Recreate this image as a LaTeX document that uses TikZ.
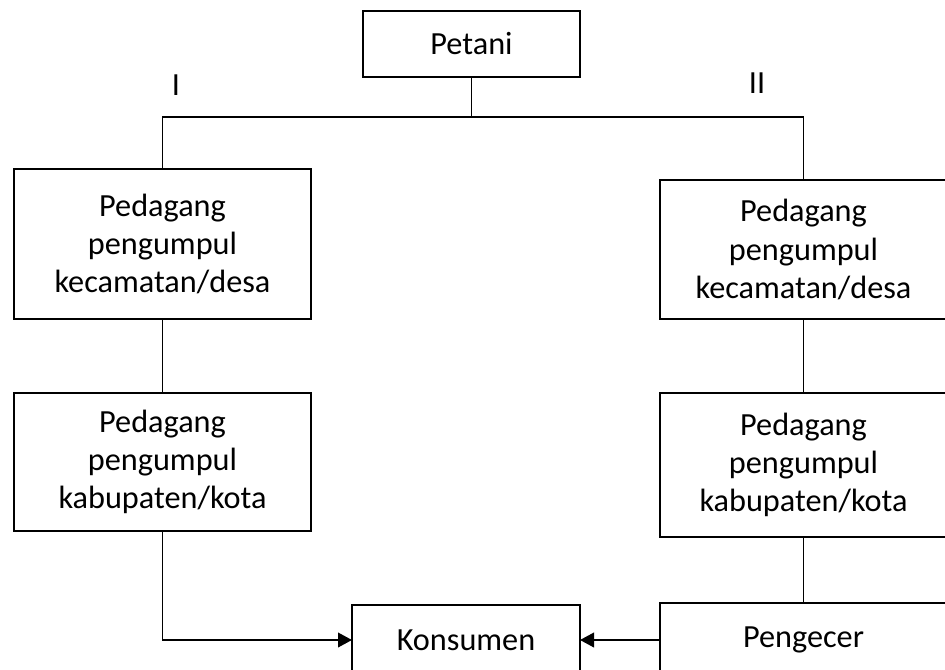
\documentclass[tikz,border=0pt]{standalone}
\usepackage{fontspec}
\setmainfont{Carlito}
\usetikzlibrary{arrows.meta}
\begin{document}
\begin{tikzpicture}[x=0.75pt,y=-0.75pt,
  box/.style={draw,line width=1.3pt,inner sep=0pt,outer sep=0pt,align=center,
    font=\fontsize{24.2pt}{28.6pt}\selectfont},
  lbl/.style={inner sep=0pt,font=\fontsize{24.2pt}{28.6pt}\selectfont},
  conn/.style={line width=1.2pt},
  arr/.style={line width=1.3pt,-{Triangle[length=10.5pt,width=11pt]}}]
\useasboundingbox (0,0) rectangle (945,670);
\node[box,minimum width=162.75pt,minimum height=49.5pt] (petani) at (471.5,44) {Petani};
\node[lbl] (one) at (176,85) {I};
\node[lbl] (two) at (757,83) {II};
\node[box,minimum width=222.75pt,minimum height=112.5pt] (L1) at (162.5,244) {Pedagang\\pengumpul\\kecamatan/desa};
\node[box,minimum width=222.75pt,minimum height=103.5pt] (L2) at (162.5,462) {Pedagang\\pengumpul\\kabupaten/kota};
\node[box,minimum width=215.25pt,minimum height=104.25pt] (R1) at (803.5,249.5) {Pedagang\\pengumpul\\kecamatan/desa};
\node[box,minimum width=215.25pt,minimum height=108pt] (R2) at (803.5,465) {Pedagang\\pengumpul\\kabupaten/kota};
\node[box,minimum width=171pt,minimum height=52.5pt] (K) at (466,640) {Konsumen};
\node[box,minimum width=215.25pt,minimum height=55.5pt] (P) at (803.5,640) {Pengecer};
\coordinate (j) at (473,117);
\draw[conn] (petani.south) -- (petani.south |- j);
\draw[conn] (L1.north) -- (L1.north |- j) -- (R1.north |- j) -- (R1.north);
\draw[conn] (L1.south) -- (L2.north);
\draw[conn] (R1.south) -- (R2.north);
\draw[conn] (R2.south) -- (P.north);
\draw[arr] (L2.south) |- (K.west);
\draw[arr] (P.west) -- (K.east);
\end{tikzpicture}
\end{document}
